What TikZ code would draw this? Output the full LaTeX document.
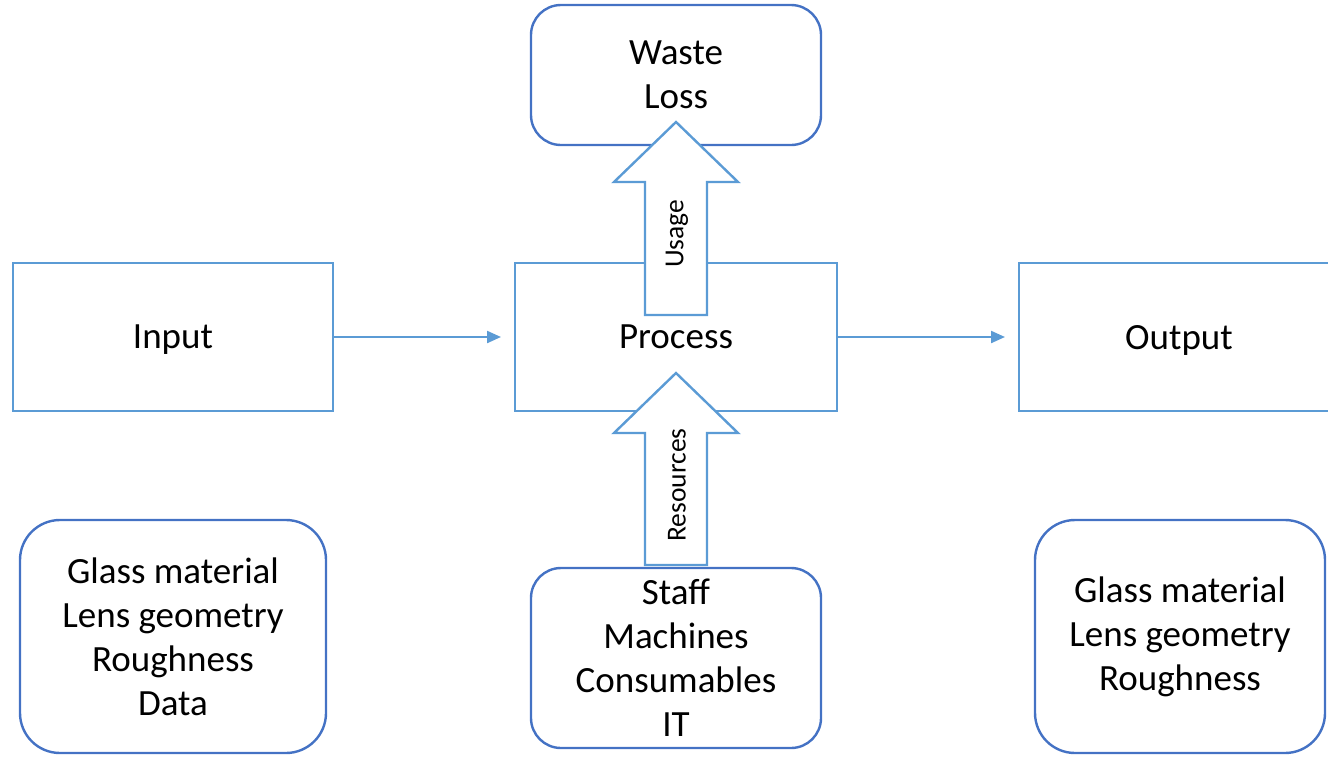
\documentclass[tikz,border=0pt]{standalone}
\usepackage{fontspec}
\setmainfont{Carlito}
\usetikzlibrary{arrows.meta}
\definecolor{boxblue}{HTML}{5B9BD5}
\definecolor{roundblue}{HTML}{4472C4}
\tikzset{
  plainbox/.style={draw=boxblue, line width=2pt, minimum width=320pt, minimum height=148pt,
    inner sep=0pt, align=center, text depth=0pt, font=\fontsize{37}{44}\selectfont},
  softbox/.style={draw=roundblue, line width=2.4pt, rounded corners=30pt, inner sep=0pt,
    align=center, font=\fontsize{37}{44}\selectfont},
  boxtext/.style={font=\fontsize{37}{44}\selectfont, align=center},
  flow/.style={draw=boxblue, line width=2.2pt, -{Triangle[length=14pt,width=12pt]}, shorten >=13pt},
  blockarrow/.style={draw=boxblue, line width=2.4pt, fill=white, line join=miter},
  arrowlabel/.style={rotate=90, font=\fontsize{27.5}{30}\selectfont, inner sep=0pt}
}
\begin{document}
\begin{tikzpicture}[x=1pt, y=-1pt]
  \useasboundingbox (0,0) rectangle (1328,756);
  \clip (0,0) rectangle (1328,756);

  % main flow
  \node[plainbox] (input) at (173,337) {Input};
  \node[plainbox, minimum width=322pt] (process) at (676,337) {Process};
  \node[plainbox] (output) at (1179,337) {Output};
  \draw[flow] (input.east) -- (process.west);
  \draw[flow] (process.east) -- (output.west);

  % boxes above and below
  \node[softbox, minimum width=290pt, minimum height=140pt] (waste) at (676,75) {};
  \node[softbox, minimum width=290pt, minimum height=180pt] (res) at (676,658) {};
  \node[softbox, rounded corners=40pt, minimum width=306pt, minimum height=233pt] (inlist) at (173,636.5) {};
  \node[softbox, rounded corners=40pt, minimum width=290pt, minimum height=233pt] (outlist) at (1180,636.5) {};

  % usage block arrow: process -> waste
  \coordinate (uB) at (676,315);
  \coordinate (uT) at (676,122);
  \draw[blockarrow] ([xshift=-31pt]uB) -- (645,182) -- (614,182) -- (uT) -- (738,182) -- (707,182) -- ([xshift=31pt]uB) -- cycle;
  \node[arrowlabel] (usage) at (677,234) {Usage};

  % resources block arrow: resource box -> process
  \coordinate (rB) at (676,565);
  \coordinate (rT) at (676,373);
  \draw[blockarrow] ([xshift=-31pt]rB) -- (645,433) -- (614,433) -- (rT) -- (738,433) -- (707,433) -- ([xshift=31pt]rB) -- cycle;
  \node[arrowlabel] (resources) at (677,485) {Resources};

  % box texts
  \node[boxtext] at (waste.center) {Waste\\Loss};
  \node[boxtext] at (res.center) {Staff\\Machines\\Consumables\\IT};
  \node[boxtext] at (inlist.center) {Glass material\\Lens geometry\\Roughness\\Data};
  \node[boxtext] at (outlist.center) {Glass material\\Lens geometry\\Roughness};
\end{tikzpicture}
\end{document}
